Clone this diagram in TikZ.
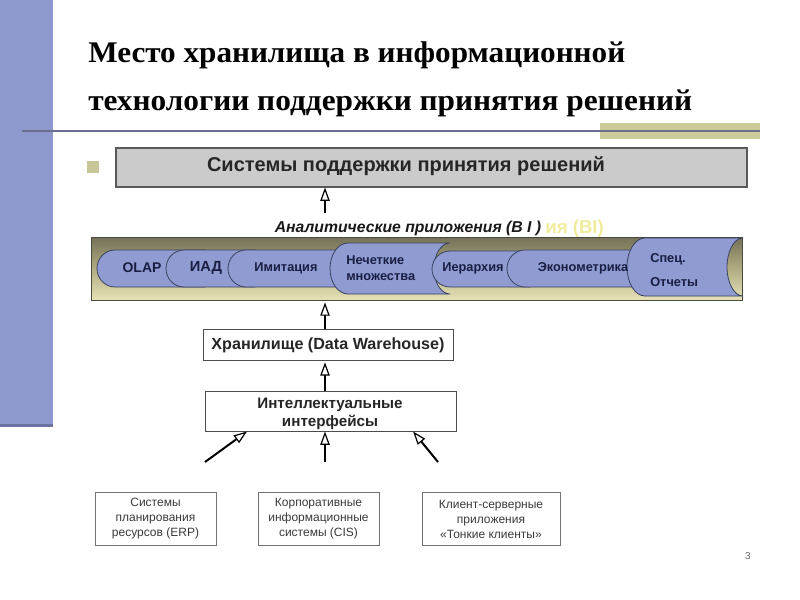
\documentclass[tikz,border=0pt]{standalone}
\usepackage{fontspec}
\usepackage{graphicx}
\setmainfont{Liberation Sans}
\newfontfamily\titlefont{Liberation Serif}
\usetikzlibrary{arrows.meta}
\definecolor{stripblue}{HTML}{8E98CC}
\definecolor{stripdark}{HTML}{6C739F}
\definecolor{ruleline}{HTML}{6B6E8C}
\definecolor{olivebar}{HTML}{CCCC9A}
\definecolor{bulletol}{HTML}{C6C696}
\definecolor{boxgray}{HTML}{CBCBCB}
\definecolor{tabfill}{HTML}{8F9BD1}
\definecolor{tabedge}{HTML}{3A4160}
\definecolor{tabtext}{HTML}{1A1E45}
\definecolor{ghost}{HTML}{EFEC9C}
\definecolor{bandtop}{HTML}{747157}
\definecolor{bandmid}{HTML}{B0AC82}
\definecolor{bandbot}{HTML}{E6E2B6}
\definecolor{bandedge}{HTML}{4A4A40}
\definecolor{smalltext}{HTML}{3A3A3A}
% tab: left, right, top, bottom, concave depth of right end
\newcommand{\mytab}[5]{%
  \filldraw[tabshape] (#2,#3) -- ({#1+18},#3)
    .. controls ({#1+8},#3) and (#1,{(#3+#4)/2-0.552*(#4-#3)/2}) .. (#1,{(#3+#4)/2})
    .. controls (#1,{(#3+#4)/2+0.552*(#4-#3)/2}) and ({#1+8},#4) .. ({#1+18},#4)
    -- (#2,#4)
    .. controls ({#2-0.552*#5},#4) and ({#2-#5},{(#3+#4)/2+0.552*(#4-#3)/2}) .. ({#2-#5},{(#3+#4)/2})
    .. controls ({#2-#5},{(#3+#4)/2-0.552*(#4-#3)/2}) and ({#2-0.552*#5},#3) .. (#2,#3) -- cycle;}
\begin{document}
\begin{tikzpicture}[x=0.75pt,y=-0.75pt,
  tabshape/.style={fill=tabfill,draw=tabedge,line width=0.6pt},
  tabtxt/.style={text=tabtext,font=\bfseries\fontsize{9.6pt}{11.5pt}\selectfont,inner sep=0pt},
  arr/.style={line width=1.5pt,-{Triangle[fill=white,line width=0.9pt,length=10pt,width=7pt]}},
  plainbox/.style={draw=black!70,line width=0.7pt,fill=white,inner sep=0pt},
  srcbox/.style={draw=black!55,line width=0.7pt,fill=white,inner sep=0pt,text=smalltext,
    align=center,font=\fontsize{9pt}{11.25pt}\selectfont}]
\useasboundingbox (0,0) rectangle (800,600);
% slide decoration
\fill[stripblue] (0,0) rectangle (53,424);
\fill[stripdark] (0,424) rectangle (53,427);
\fill[olivebar] (600,123) rectangle (760,139);
\draw[ruleline,line width=1.2pt] (22,131) -- (760,131);
\fill[bulletol] (87,161) rectangle (99,173);
% title
\node[anchor=base west,inner sep=0pt] (t1) at (88,62)
  {\titlefont\bfseries\fontsize{22.5pt}{27pt}\selectfont\resizebox{402.75pt}{\height}{Место хранилища в информационной}};
\node[anchor=base west,inner sep=0pt] (t2) at (88,110)
  {\titlefont\bfseries\fontsize{22.5pt}{27pt}\selectfont\resizebox{453pt}{\height}{технологии поддержки принятия решений}};
% top box
\node[draw=black!65,line width=0.8pt,fill=boxgray,minimum width=473.25pt,minimum height=29.25pt,inner sep=0pt] (dss) at (431.5,167.5) {};
\node[inner sep=0pt,font=\bfseries\fontsize{15pt}{17pt}\selectfont,text=black!85] (dsst) at (406,166) {Системы поддержки принятия решений};
% band
\node[top color=bandtop,bottom color=bandbot,middle color=bandmid,draw=bandedge,line width=0.6pt,
  minimum width=488.25pt,minimum height=47.25pt,inner sep=0pt] (band) at (416.5,268.5) {};
% tabs
\mytab{97}{205}{250}{287}{0}
\mytab{166}{255}{250}{287}{0}
\mytab{228}{352}{250}{287}{0}
\mytab{330}{450}{243}{294}{16}
\mytab{432}{530}{251}{287}{0}
\mytab{507}{650}{250}{287}{0}
\mytab{627}{743}{238}{296}{16}
\node[tabtxt,font=\bfseries\fontsize{10.5pt}{12pt}\selectfont] (olap) at (142,268) {OLAP};
\node[tabtxt,font=\bfseries\fontsize{11pt}{12pt}\selectfont] (iad) at (206,268) {ИАД};
\node[tabtxt] (imit) at (286,268) {Имитация};
\node[tabtxt,align=left,anchor=west,font=\bfseries\fontsize{9.6pt}{12pt}\selectfont] (fuzzy) at (346,268) {Нечеткие\\множества};
\node[tabtxt] (hier) at (473,268) {Иерархия};
\node[tabtxt] (econ) at (583,268) {Эконометрика};
\node[tabtxt,align=left,anchor=west,font=\bfseries\fontsize{9.6pt}{18pt}\selectfont] (spec) at (650,270) {Спец.\\Отчеты};
% label with ghost remainder
\node[anchor=base west,inner sep=0pt,text=ghost,font=\bfseries\fontsize{14pt}{15pt}\selectfont] (ghostlbl) at (545,233) {ия (BI)};
\node[anchor=base,inner sep=0pt,font=\bfseries\itshape\fontsize{11.8pt}{13pt}\selectfont,text=black!90] (bilbl) at (408,232) {Аналитические приложения (B I )};
% middle boxes
\node[plainbox,minimum width=187.5pt,minimum height=23.25pt,font=\bfseries\fontsize{12.1pt}{13pt}\selectfont,text=black!85] (dw) at (328,345) {Хранилище (Data Warehouse)};
\node[plainbox,minimum width=188.25pt,minimum height=30pt] (intf) at (330.5,411) {};
\node[inner sep=0pt,align=center,font=\bfseries\fontsize{11.4pt}{13.5pt}\selectfont,text=black!85] (intft) at (330,413.5) {Интеллектуальные\\интерфейсы};
% source boxes
\node[srcbox,minimum width=90.75pt,minimum height=39.75pt] (erp) at (155.5,519) {Системы\\планирования\\ресурсов (ERP)};
\node[srcbox,minimum width=90.75pt,minimum height=39.75pt] (cis) at (318.5,519) {Корпоративные\\информационные\\системы (CIS)};
\node[srcbox,minimum width=103.5pt,minimum height=39.75pt] (cs) at (491,519) {Клиент-серверные\\приложения\\«Тонкие клиенты»};
% arrows
\coordinate (ax) at (325,0);
\coordinate (a1) at (325,213);
\coordinate (s1) at (205,462);
\coordinate (s2) at (325,462);
\coordinate (s3) at (438,462);
\draw[arr] (a1) -- (a1 |- dss.south);
\draw[arr] (dw.north -| ax) -- ([yshift=-1.5pt]band.south -| ax);
\draw[arr] (intf.north -| ax) -- ([yshift=-1pt]dw.south -| ax);
\draw[arr] (s1) -- ([xshift=-62.6pt]intf.south);
\draw[arr] (s2) -- (intf.south -| s2);
\draw[arr] (s3) -- ([xshift=61.9pt]intf.south);
% page number
\node[text=black!60,font=\fontsize{7.5pt}{8pt}\selectfont,inner sep=0pt] (pg) at (748,556) {3};
\end{tikzpicture}
\end{document}
